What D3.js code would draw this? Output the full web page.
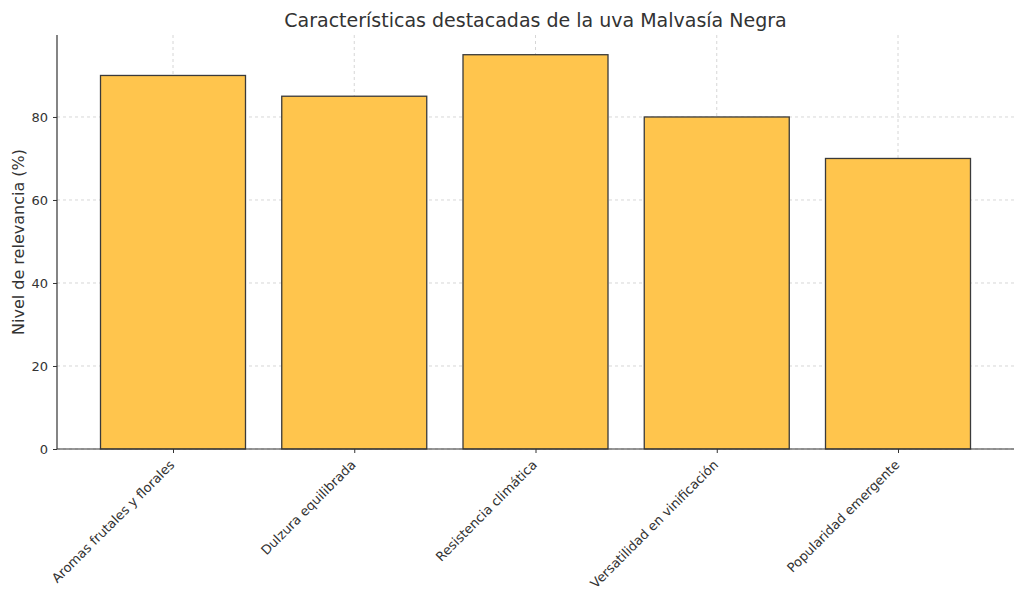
<!DOCTYPE html>
<html><head><meta charset="utf-8">
<script src="https://cdn.jsdelivr.net/npm/d3@7"></script>
<style>body{margin:0;background:#fff}text{font-family:"DejaVu Sans",sans-serif}</style>
</head><body><svg id="c" width="1024" height="611"></svg>
<script>
const categories = ['Aromas frutales y florales','Dulzura equilibrada','Resistencia climática','Versatilidad en vinificación','Popularidad emergente']
const values = [90, 85, 95, 80, 70]
const yTicks = [0, 20, 40, 60, 80]

const svg = d3.select('#c')
const mLeft = 57, mRight = 1014, mTop = 35, mBottom = 449

const x = d3.scaleLinear().domain([-0.64, 4.64]).range([mLeft, mRight])
const y = d3.scaleLinear().domain([0, 99.75]).range([mBottom, mTop])

// grid
svg.append('g').selectAll('line').data(yTicks).enter().append('line')
    .attr('x1', mLeft).attr('x2', mRight).attr('y1', d => y(d)).attr('y2', d => y(d))
    .attr('stroke', '#ccc').attr('stroke-dasharray', '3,3').attr('stroke-width', 0.8)
svg.append('g').selectAll('line').data(categories).enter().append('line')
    .attr('x1', (d, i) => x(i)).attr('x2', (d, i) => x(i)).attr('y1', mTop).attr('y2', mBottom)
    .attr('stroke', '#ccc').attr('stroke-dasharray', '3,3').attr('stroke-width', 0.8)

// bars
const bw = x(0.8) - x(0)
svg.append('g').selectAll('rect').data(values).enter().append('rect')
    .attr('x', (d, i) => x(i) - bw / 2).attr('width', bw)
    .attr('y', d => y(d)).attr('height', d => mBottom - y(d))
    .attr('fill', '#FFC54D').attr('stroke', '#3a3a3a').attr('stroke-width', 1.3)

// axes
const yAxis = svg.append('g').attr('transform', `translate(${mLeft},0)`)
    .call(d3.axisLeft(y).tickValues(yTicks).tickSizeOuter(0).tickSize(4).tickPadding(5))
const xAxis = svg.append('g').attr('transform', `translate(0,${mBottom})`)
    .call(d3.axisBottom(x).tickValues(d3.range(5)).tickFormat(i => categories[i]).tickSizeOuter(0).tickSize(4))
svg.selectAll('.domain').attr('stroke', '#333').attr('stroke-width', 1.2)
svg.selectAll('.tick line').attr('stroke', '#333')
svg.selectAll('.tick text').attr('font-size', 13).attr('fill', '#333')
xAxis.selectAll('.tick text')
    .attr('text-anchor', 'end').attr('dy', '0.35em')
    .attr('transform', 'translate(0,12) rotate(-45)')
    .attr('y', 0).attr('x', -2)
xAxis.select('.domain').attr('d', `M${mLeft},0H${mRight}`)
yAxis.select('.domain').attr('d', `M0,0V${mTop}`).attr('d', `M0,${mBottom}V${mTop}`)

svg.append('text').attr('x', (mLeft + mRight) / 2).attr('y', 27).attr('text-anchor', 'middle')
    .attr('font-size', 19).attr('fill', '#333').text('Características destacadas de la uva Malvasía Negra')
svg.append('text').attr('transform', `translate(24,${(mTop + mBottom) / 2}) rotate(-90)`)
    .attr('text-anchor', 'middle').attr('font-size', 16).attr('fill', '#333').text('Nivel de relevancia (%)')
</script></body></html>
